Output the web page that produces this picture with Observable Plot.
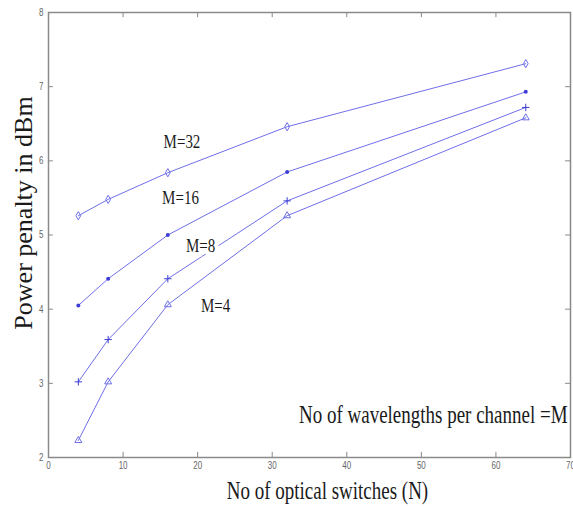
<!DOCTYPE html>
<html><head><meta charset="utf-8">
<script src="https://cdn.jsdelivr.net/npm/d3@7"></script>
<script src="https://cdn.jsdelivr.net/npm/@observablehq/plot@0.6"></script>
<style>body{margin:0;background:#fff}</style>
</head><body><div id="chart"></div>
<script>
// ---- data ----
const switches = [4, 8, 16, 32, 64];
const seriesNames = ["M=32", "M=16", "M=8", "M=4"];
const pp32 = [5.26, 5.48, 5.84, 6.46, 7.31];
const pp16 = [4.05, 4.41, 5.00, 5.85, 6.93];
const pp8  = [3.02, 3.59, 4.41, 5.46, 6.72];
const pp4  = [2.23, 3.02, 4.06, 5.26, 6.58];
const xTicks = [0, 10, 20, 30, 40, 50, 60, 70];
const yTicks = [2, 3, 4, 5, 6, 7, 8];
const labelX = [17.9, 17.7, 20.4, 22.4];
const labelY = [6.26, 5.50, 4.86, 4.05];
const noteText = "No of wavelengths per channel =M";
const noteX = [69.6];
const noteY = [2.57];
const xTitle = "No of optical switches (N)";
const yTitle = "Power penalty in dBm";

const values = [pp32, pp16, pp8, pp4];
const rows = seriesNames.flatMap((m, k) => switches.map((n, i) => ({M: m, N: n, P: values[k][i]})));
const labels = seriesNames.map((m, k) => ({text: m, x: labelX[k], y: labelY[k]}));

const serif = "'Liberation Serif', 'Times New Roman', serif";
const lineColor = "#6f6fe8";
const markColor = "#3c3cd6";
const frameColor = "#8a8a8a";

const chart = Plot.plot({
  width: 573, height: 507,
  marginLeft: 48, marginRight: 3, marginTop: 12, marginBottom: 50,
  x: {domain: [0, 70], label: null},
  y: {domain: [2, 8], label: null},
  style: {fontFamily: serif, background: "white"},
  marks: [
    // inward ticks
    Plot.ruleX(xTicks.slice(1, -1), {x: d => d, y1: 2, y2: 2.07, stroke: frameColor}),
    Plot.ruleX(xTicks.slice(1, -1), {x: d => d, y1: 8, y2: 7.93, stroke: frameColor}),
    Plot.ruleY(yTicks.slice(1, -1), {y: d => d, x1: 0, x2: 0.66, stroke: frameColor}),
    Plot.ruleY(yTicks.slice(1, -1), {y: d => d, x1: 70, x2: 69.34, stroke: frameColor}),
    Plot.axisX(xTicks, {tickSize: 0, tickPadding: 4, fontSize: 8, fill: "#666", fontFamily: "Liberation Sans", tickFormat: d => String(d), label: null}),
    Plot.axisY(yTicks, {tickSize: 0, tickPadding: 5, fontSize: 8, fill: "#666", fontFamily: "Liberation Sans", tickFormat: d => String(d), label: null}),
    Plot.frame({stroke: frameColor, strokeWidth: 1.5}),
    Plot.line(rows, {x: "N", y: "P", z: "M", stroke: lineColor, strokeWidth: 1}),
    Plot.dot(rows.filter(d => d.M === "M=32"), {x: "N", y: "P", symbol: "diamond", r: 2.5, stroke: lineColor, fill: "none", strokeWidth: 1}),
    Plot.dot(rows.filter(d => d.M === "M=16"), {x: "N", y: "P", symbol: "circle", r: 2, fill: markColor, stroke: "none"}),
    Plot.dot(rows.filter(d => d.M === "M=8"), {x: "N", y: "P", symbol: "plus", r: 2.5, stroke: markColor, fill: "none", strokeWidth: 1}),
    Plot.dot(rows.filter(d => d.M === "M=4"), {x: "N", y: "P", symbol: "triangle", r: 2.6, stroke: lineColor, fill: "none", strokeWidth: 1}),
    Plot.text(labels, {x: "x", y: "y", text: "text", fontSize: 15, fontFamily: serif, fill: "#1a1a1a", stroke: "white", strokeWidth: 8, paintOrder: "stroke"}),
    Plot.text([noteText], {x: noteX, y: noteY, text: d => d, textAnchor: "end", fontSize: 19, fontFamily: serif, fill: "#1a1a1a"}),
    Plot.text([xTitle], {frameAnchor: "bottom", dx: 18, dy: 41, lineAnchor: "bottom", textAnchor: "middle", text: d => d, fontSize: 19, fontFamily: serif, fill: "#1a1a1a"}),
    Plot.text([yTitle], {frameAnchor: "left", rotate: -90, dx: -25, dy: -22, textAnchor: "middle", lineAnchor: "middle", text: d => d, fontSize: 26, fontFamily: serif, fill: "#1a1a1a"})
  ]
});

// mimic the vertically stretched lettering of the original figure
d3.select(chart).selectAll("text").each(function () {
  const t = this.getAttribute("transform");
  if (t && !t.includes("rotate")) this.setAttribute("transform", t.replace(/^(translate\([^)]*\))/, "$1 scale(1,1.3)"));
});

document.getElementById("chart").appendChild(chart);
</script>
</body></html>
